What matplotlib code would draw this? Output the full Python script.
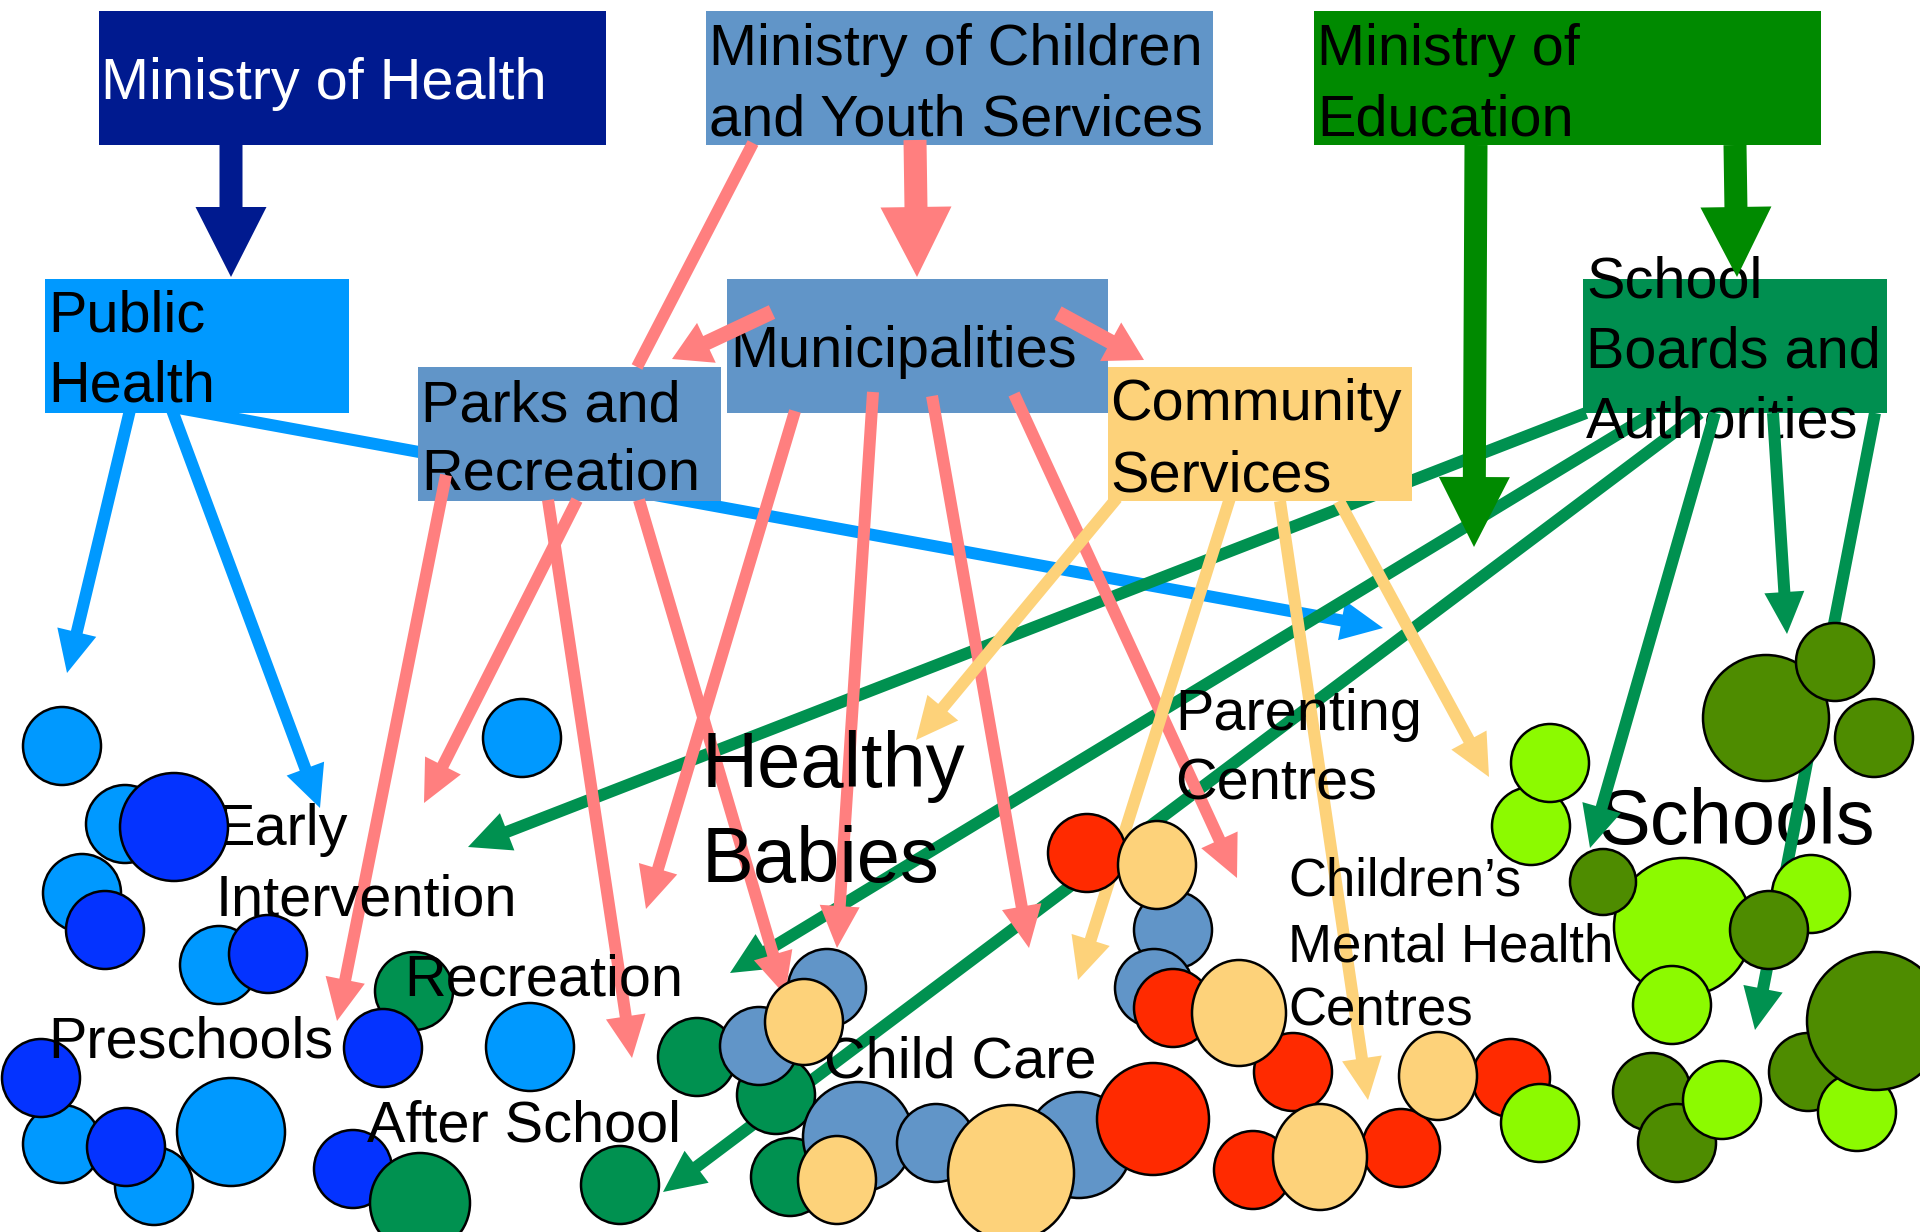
import matplotlib
matplotlib.use('Agg')
import matplotlib.pyplot as plt
from matplotlib.patches import Rectangle, Circle, Ellipse, FancyArrow

plt.rcParams['font.family'] = ['Liberation Sans', 'DejaVu Sans']

# ---- organisations (boxes) ----
box_lines = [['Ministry of Health'],
             ['Ministry of Children', 'and Youth Services'],
             ['Ministry of', 'Education'],
             ['Public', 'Health'],
             ['Municipalities'],
             ['Parks and', 'Recreation'],
             ['Community', 'Services'],
             ['School', 'Boards and', 'Authorities']]
box_rects = [(99, 11, 606, 145), (706, 11, 1213, 145), (1314, 11, 1821, 145),
             (45, 279, 349, 413), (727, 279, 1108, 413), (418, 367, 721, 501),
             (1108, 367, 1412, 501), (1583, 279, 1887, 413)]
box_colors = ['#001A8F', '#6195C8', '#008A00', '#0099FF', '#6195C8',
              '#6195C8', '#FDD27A', '#008F50']
box_text_colors = ['white', 'black', 'black', 'black', 'black', 'black', 'black', 'black']
box_text_x = [101, 709, 1317, 48, 730, 421, 1110, 1586]
box_baselines = [[99], [65, 135], [65, 135], [332, 402], [367], [422, 490],
                 [420, 492], [297, 368, 437]]

# ---- services (labels) ----
service_lines = [['Early', 'Intervention'], ['Preschools'], ['Recreation'],
                 ['After School'], ['Healthy', 'Babies'], ['Child Care'],
                 ['Parenting', 'Centres'],
                 ['Children\u2019s', 'Mental Health', 'Centres'], ['Schools']]
service_x = [216, 48, 404, 367, 702, 824, 1175, 1288, 1599]
service_baselines = [[845, 916], [1057], [995], [1141], [787, 882], [1077],
                     [730, 800], [896, 962, 1025], [844]]
service_sizes = [41.5, 41.5, 41.5, 41.5, 56, 41.5, 41.5, 38, 56]

# ---- arrows (tail x, tail y, tip x, tip y) ----
thick_arrows = [(231, 145, 231, 277, '#001A8F'), (915, 140, 917, 277, '#FF7F7F'),
                (1476, 145, 1474, 547, '#008A00'), (1735, 145, 1737, 277, '#008A00')]
muni_side_arrows = [(772, 312, 672, 359), (1058, 313, 1144, 360)]
health_arrows = [(130, 410, 67, 673), (172, 410, 320, 808)]
health_long_arrow = (178, 408, 1383, 628)
children_line = (753, 143, 637, 367)
parks_arrows = [(446, 475, 337, 1021), (577, 500, 424, 803),
                (548, 500, 632, 1058), (639, 500, 785, 995)]
muni_arrows = [(795, 411, 646, 909), (873, 392, 837, 948),
               (932, 396, 1029, 948), (1014, 394, 1237, 878)]
community_arrows = [(1117, 498, 916, 740), (1230, 498, 1078, 980),
                    (1280, 501, 1368, 1100), (1339, 501, 1489, 777)]
board_long_arrows = [(1586, 413, 468, 847), (1653, 413, 730, 973),
                     (1700, 413, 663, 1192)]
board_arrows = [(1715, 413, 1590, 848), (1773, 413, 1787, 634),
                (1875, 413, 1755, 1030)]

# ---- service sites (x, y, radius, layer) ----
light_blue = [(62, 746, 39, 0), (125, 824, 39, 0), (82, 893, 39, 0), (219, 965, 39, 0),
              (522, 738, 39, 0), (530, 1047, 44, 0), (62, 1144, 39, 0),
              (154, 1186, 39, 0), (231, 1132, 54, 0)]
dark_blue = [(174, 827, 54, 1), (105, 930, 39, 1), (268, 954, 39, 1), (383, 1048, 39, 1),
             (41, 1078, 39, 1), (126, 1147, 39, 1), (353, 1169, 39, 1)]
teal = [(414, 991, 39, 0), (420, 1203, 50, 2), (620, 1185, 39, 0), (697, 1057, 39, 0),
        (776, 1095, 39, 0), (790, 1177, 39, 0)]
steel = [(827, 988, 39, 0), (1173, 930, 39, 0), (1154, 988, 39, 0), (858, 1137, 55, 0),
         (1079, 1145, 53, 0), (759, 1046, 39, 1), (936, 1143, 39, 1)]
red = [(1087, 853, 39, 0), (1293, 1072, 39, 0), (1253, 1170, 39, 0), (1401, 1148, 39, 0),
       (1511, 1078, 39, 0), (1173, 1008, 39, 1), (1153, 1119, 56, 1)]
dark_olive = [(1766, 718, 63, 0), (1808, 1072, 39, 0), (1652, 1092, 39, 0),
              (1677, 1143, 39, 0), (1603, 882, 33, 1), (1769, 930, 39, 1),
              (1835, 662, 39, 1), (1874, 738, 39, 1), (1876, 1021, 69, 2)]
light_green = [(1531, 826, 39, 0), (1683, 927, 69, 0), (1811, 894, 39, 0),
               (1857, 1112, 39, 0), (1550, 763, 39, 1), (1672, 1005, 39, 1),
               (1540, 1123, 39, 1), (1722, 1100, 39, 1)]
# yellow sites are slightly taller than wide: (x, y, rx, ry)
yellow = [(804, 1022, 39, 43), (1157, 865, 39, 44), (1239, 1013, 47, 53),
          (1011, 1173, 63, 68), (837, 1180, 39, 44), (1320, 1157, 47, 53),
          (1438, 1076, 39, 44)]

site_groups = [(light_blue, '#0099FF'), (teal, '#009150'), (steel, '#6195C8'),
               (red, '#FF2A00'), (dark_olive, '#4E8C00'), (light_green, '#8CFA00'),
               (dark_blue, '#0433FF')]

SALMON = '#FF7F7F'
BLUE = '#0099FF'
YELLOW = '#FDD27A'
TEAL = '#009150'


def arrow(ax, x0, y0, x1, y1, color, w=12, hw=40, hl=42, z=2, head=True):
    if head:
        a = FancyArrow(x0, y0, x1 - x0, y1 - y0, width=w, head_width=hw, head_length=hl,
                       length_includes_head=True, color=color, lw=0, zorder=z)
    else:
        a = FancyArrow(x0, y0, x1 - x0, y1 - y0, width=w, head_width=w, head_length=0,
                       length_includes_head=True, color=color, lw=0, zorder=z)
    ax.add_patch(a)


fig = plt.figure(figsize=(19.2, 12.32), dpi=100)
ax = fig.add_axes([0, 0, 1, 1])
ax.set_xlim(0, 1920)
ax.set_ylim(1232, 0)
ax.axis('off')

# boxes
for lines, (x0, y0, x1, y1), col, tcol, tx, bls in zip(box_lines, box_rects, box_colors,
                                                      box_text_colors, box_text_x, box_baselines):
    ax.add_patch(Rectangle((x0, y0), x1 - x0, y1 - y0, facecolor=col, edgecolor='none', zorder=1.2))
    for line, bl in zip(lines, bls):
        ax.text(tx, bl, line, color=tcol, fontsize=41.5, ha='left', va='baseline', zorder=1.3)

# arrows
for x0, y0, x1, y1, col in thick_arrows:
    arrow(ax, x0, y0, x1, y1, col, w=23, hw=71, hl=70)
for x0, y0, x1, y1 in muni_side_arrows:
    arrow(ax, x0, y0, x1, y1, SALMON, w=15, hw=44, hl=38)
for x0, y0, x1, y1 in health_arrows:
    arrow(ax, x0, y0, x1, y1, BLUE)
arrow(ax, *health_long_arrow, BLUE, z=1)
arrow(ax, *children_line, SALMON, head=False)
for x0, y0, x1, y1 in parks_arrows + muni_arrows:
    arrow(ax, x0, y0, x1, y1, SALMON)
for x0, y0, x1, y1 in community_arrows:
    arrow(ax, x0, y0, x1, y1, YELLOW)
for x0, y0, x1, y1 in board_long_arrows:
    arrow(ax, x0, y0, x1, y1, TEAL, z=1)
for x0, y0, x1, y1 in board_arrows:
    arrow(ax, x0, y0, x1, y1, TEAL)

# sites
for layer in range(3):
    for sites, col in site_groups:
        for x, y, r, lay in sites:
            if lay == layer:
                ax.add_patch(Circle((x, y), r, facecolor=col, edgecolor='black', lw=1.8,
                                    zorder=3 + layer * 0.1))
for x, y, rx, ry in yellow:
    ax.add_patch(Ellipse((x, y), 2 * rx, 2 * ry, facecolor=YELLOW, edgecolor='black', lw=1.8,
                         zorder=3.25))

# service labels
for lines, tx, bls, size in zip(service_lines, service_x, service_baselines, service_sizes):
    z = 4
    if lines[0] in ('Early', 'Child Care'):
        z = 2.5
    if lines[0] == 'Schools':
        z = 1.5
    for line, bl in zip(lines, bls):
        ax.text(tx, bl, line, fontsize=size, ha='left', va='baseline', zorder=z)

fig.savefig('out.png', dpi=100)
